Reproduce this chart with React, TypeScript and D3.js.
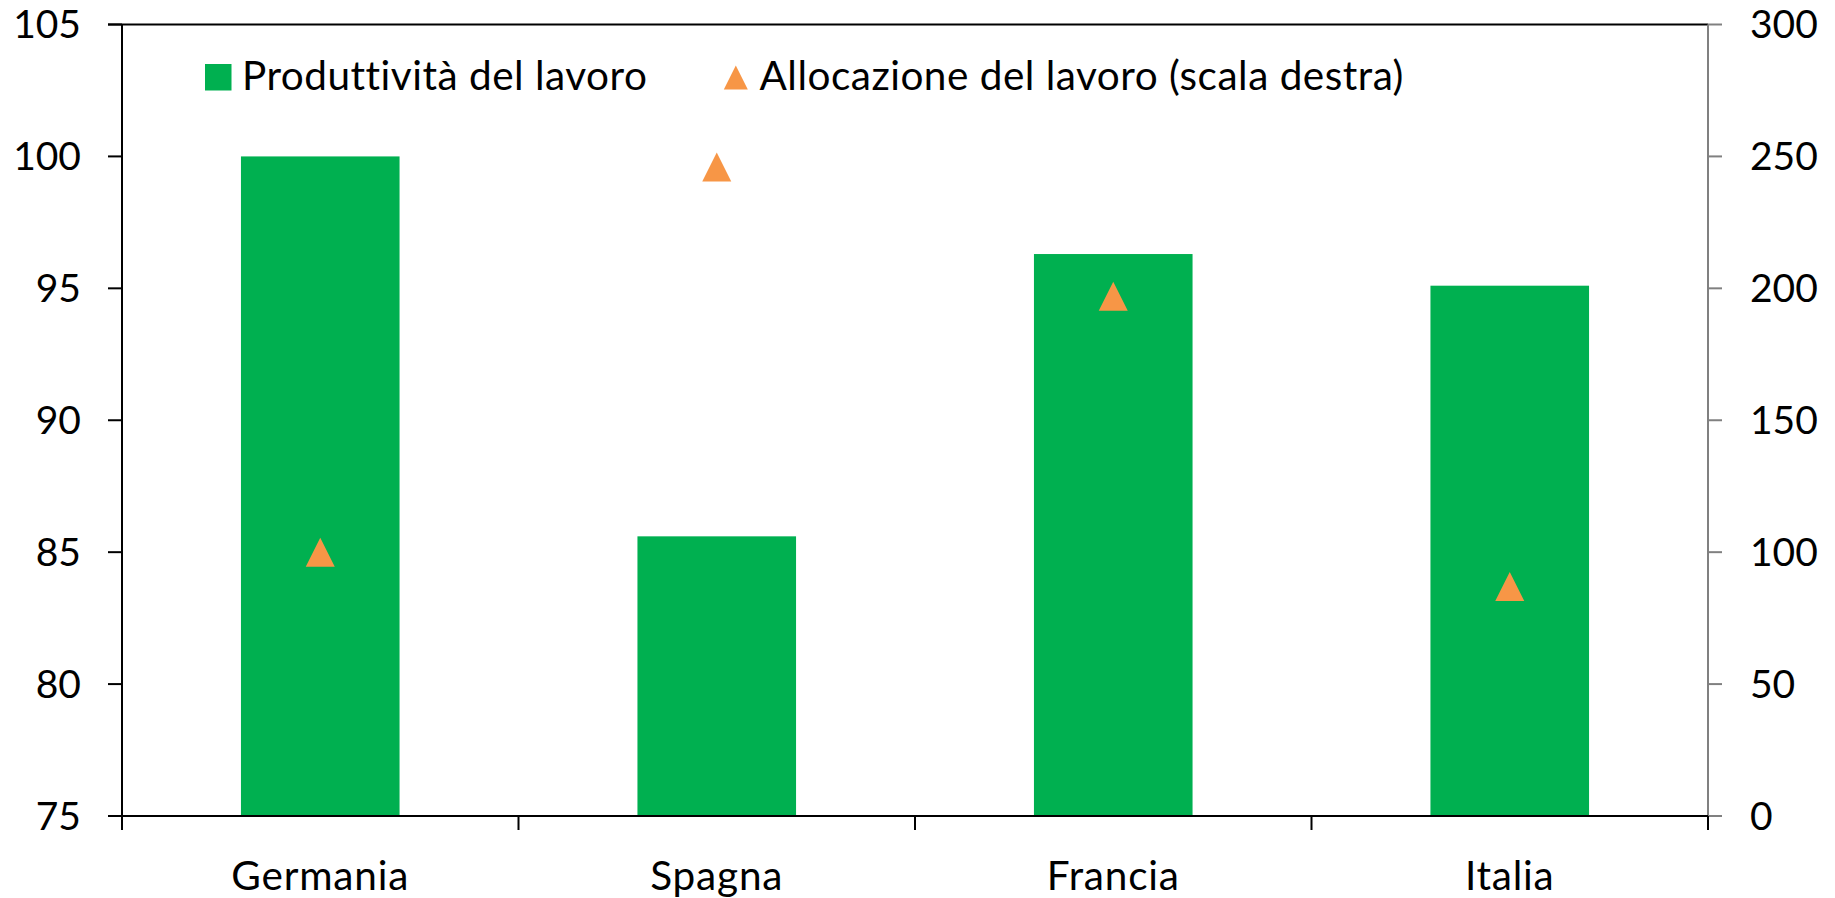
import React from "react";
import * as d3 from "d3";

const categories = ["Germania", "Spagna", "Francia", "Italia"];
const produttivita = [100.0, 85.6, 96.3, 95.1];
const allocazione = [100, 246, 197, 87];
const leftTicks = [75, 80, 85, 90, 95, 100, 105];
const rightTicks = [0, 50, 100, 150, 200, 250, 300];
const legendLabels = ["Produttività del lavoro", "Allocazione del lavoro (scala destra)"];

const W = 1835;
const H = 898;
const M = { left: 122, right: 1708, top: 24.5, bottom: 816 };
const GREEN = "#00B050";
const ORANGE = "#F79646";
const FONT = "Lato, 'Open Sans', sans-serif";
const FS = 39;
const FSW = 40.5;
const LS = 0.8;
const LS_LEG = 0.5;

export default function App() {
  const x = d3.scaleBand<string>().domain(categories).range([M.left, M.right]).paddingInner(0).paddingOuter(0);
  const yL = d3.scaleLinear().domain([75, 105]).range([M.bottom, M.top]);
  const yR = d3.scaleLinear().domain([0, 300]).range([M.bottom, M.top]);
  const barW = x.bandwidth() * 0.4;
  const triPath = (cx: number, cy: number, w: number) => {
    const h = w;
    return `M${cx},${cy - h / 2}L${cx + w / 2},${cy + h / 2}L${cx - w / 2},${cy + h / 2}Z`;
  };
  const boundaries = [...categories.map((c) => x(c) as number), M.right];

  return (
    <svg width={W} height={H} style={{ position: "absolute", left: 0, top: 0, background: "#fff" }}>
      <rect x={0} y={0} width={W} height={H} fill="#fff" />
      {categories.map((c, i) => {
        const cx = (x(c) as number) + x.bandwidth() / 2;
        return (
          <rect key={c} x={cx - barW / 2} y={yL(produttivita[i])} width={barW} height={M.bottom - yL(produttivita[i])} fill={GREEN} />
        );
      })}
      {categories.map((c, i) => {
        const cx = (x(c) as number) + x.bandwidth() / 2;
        return <path key={c} d={triPath(cx, yR(allocazione[i]), 29)} fill={ORANGE} />;
      })}
      <line x1={108} x2={M.right} y1={M.top} y2={M.top} stroke="#000" strokeWidth={2} />
      <line x1={M.left} x2={M.left} y1={M.top} y2={M.bottom + 14} stroke="#000" strokeWidth={2} />
      {leftTicks.map((t) => (
        <g key={t}>
          <line x1={108} x2={M.left} y1={yL(t)} y2={yL(t)} stroke="#000" strokeWidth={2} />
          <text x={81} y={yL(t)} dy="0.35em" textAnchor="end" fontFamily={FONT} fontSize={FS} fill="#000">
            {t}
          </text>
        </g>
      ))}
      <line x1={M.right} x2={M.right} y1={M.top} y2={M.bottom} stroke="#808080" strokeWidth={2} />
      {rightTicks.map((t) => (
        <g key={t}>
          <line x1={M.right} x2={1722} y1={yR(t)} y2={yR(t)} stroke="#808080" strokeWidth={2} />
          <text x={1750} y={yR(t)} dy="0.35em" textAnchor="start" fontFamily={FONT} fontSize={FS} fill="#000">
            {t}
          </text>
        </g>
      ))}
      <line x1={108} x2={M.right} y1={M.bottom} y2={M.bottom} stroke="#000" strokeWidth={2} />
      {boundaries.map((b, i) => (
        <line key={i} x1={b} x2={b} y1={M.bottom} y2={M.bottom + 14} stroke="#000" strokeWidth={2} />
      ))}
      {categories.map((c) => (
        <text key={c} x={(x(c) as number) + x.bandwidth() / 2} y={890} textAnchor="middle" fontFamily={FONT} fontSize={FSW} letterSpacing={LS} fill="#000">
          {c}
        </text>
      ))}
      <rect x={205} y={64} width={26.5} height={26.5} fill={GREEN} />
      <text x={242} y={90} fontFamily={FONT} fontSize={FSW} letterSpacing={LS_LEG} fill="#000">
        {legendLabels[0]}
      </text>
      <path d={triPath(735.8, 77.5, 24)} fill={ORANGE} />
      <text x={759.5} y={90} fontFamily={FONT} fontSize={FSW} letterSpacing={LS_LEG} fill="#000">
        {legendLabels[1]}
      </text>
    </svg>
  );
}
